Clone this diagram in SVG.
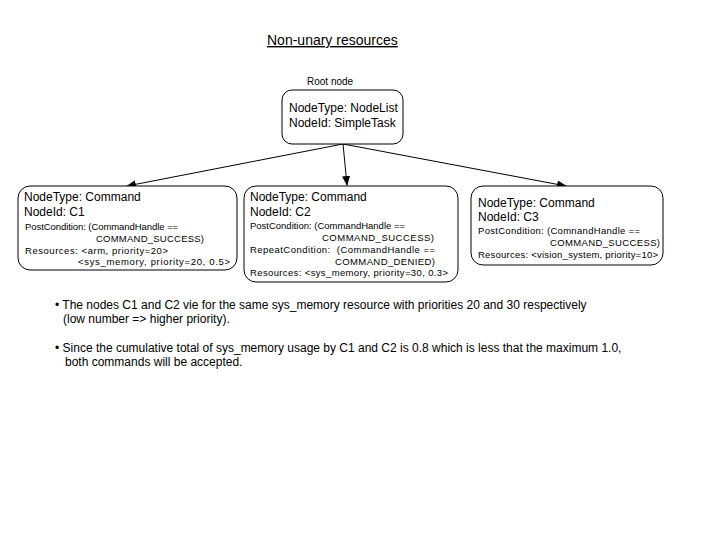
<svg xmlns="http://www.w3.org/2000/svg" width="720" height="540" viewBox="0 0 720 540">
<defs>
<marker id="ah" markerWidth="10" markerHeight="8" refX="9" refY="4" orient="auto" markerUnits="userSpaceOnUse">
<path d="M0,0 L10,4 L0,8 Z" fill="#000"/>
</marker>
<style>
text{font-family:"Liberation Sans",Arial,sans-serif;fill:#000}
.box{fill:#fff;stroke:#000;stroke-width:1}
.b{font-size:12px}
.s{font-size:9.5px}
.t{font-size:14px;text-decoration:underline}
.l{font-size:10px}
.edge{stroke:#000;stroke-width:1;fill:none;marker-end:url(#ah)}
</style>
</defs>
<rect width="720" height="540" fill="#fff"/>
<text class="t" x="267" y="45">Non-unary resources</text>
<text class="l" x="307" y="85">Root node</text>
<g id="connectors">
<line class="edge" x1="343" y1="144" x2="127" y2="186"/>
<line class="edge" x1="343" y1="144" x2="347" y2="185"/>
<line class="edge" x1="343" y1="144" x2="566" y2="186"/>
</g>
<g id="root">
<rect class="box" x="282" y="90" width="121" height="54" rx="10"/>
<text class="b" x="289" y="112">NodeType: NodeList</text>
<text class="b" x="289" y="127">NodeId: SimpleTask</text>
</g>
<g id="C1">
<rect class="box" x="18" y="186" width="219" height="84" rx="12"/>
<text class="b" x="24" y="201">NodeType: Command</text>
<text class="b" x="24" y="216">NodeId: C1</text>
<text class="s" x="25" y="230" textLength="153">PostCondition: (CommandHandle ==</text>
<text class="s" x="96" y="242" textLength="108">COMMAND_SUCCESS)</text>
<text class="s" x="25" y="254" textLength="143">Resources: &lt;arm, priority=20&gt;</text>
<text class="s" x="78" y="265" textLength="152">&lt;sys_memory, priority=20, 0.5&gt;</text>
</g>
<g id="C2">
<rect class="box" x="244" y="186" width="214" height="96" rx="12"/>
<text class="b" x="250" y="201">NodeType: Command</text>
<text class="b" x="250" y="216">NodeId: C2</text>
<text class="s" x="250" y="229" textLength="155">PostCondition: (CommandHandle ==</text>
<text class="s" x="322" y="241" textLength="112">COMMAND_SUCCESS)</text>
<text class="s" x="250" y="253" textLength="185">RepeatCondition:&#160; (CommandHandle ==</text>
<text class="s" x="335" y="265" textLength="100">COMMAND_DENIED)</text>
<text class="s" x="250" y="276" textLength="198">Resources: &lt;sys_memory, priority=30, 0.3&gt;</text>
</g>
<g id="C3">
<rect class="box" x="471" y="186" width="192" height="79" rx="12"/>
<text class="b" x="478" y="207">NodeType: Command</text>
<text class="b" x="478" y="221">NodeId: C3</text>
<text class="s" x="478" y="234" textLength="162">PostCondition: (ComnandHandle ==</text>
<text class="s" x="550" y="246" textLength="110">COMMAND_SUCCESS)</text>
<text class="s" x="478" y="258" textLength="180">Resources: &lt;vision_system, priority=10&gt;</text>
</g>
<g id="notes">
<text class="b" x="55" y="309">• The nodes C1 and C2 vie for the same sys_memory resource with priorities 20 and 30 respectively</text>
<text class="b" x="63" y="323">(low number =&gt; higher priority).</text>
<text class="b" x="55" y="352">• Since the cumulative total of sys_memory usage by C1 and C2 is 0.8 which is less that the maximum 1.0,</text>
<text class="b" x="65" y="366">both commands will be accepted.</text>
</g>
</svg>
